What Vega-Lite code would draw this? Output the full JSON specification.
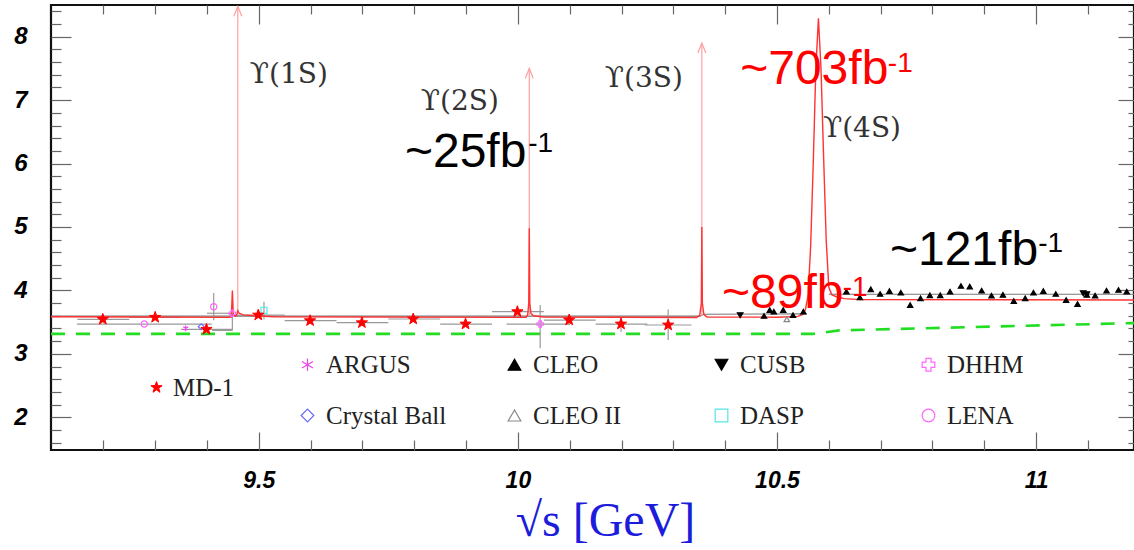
{
  "$schema": "https://vega.github.io/schema/vega-lite/v6.json",
  "width": 1083,
  "height": 445,
  "autosize": "none",
  "padding": {"left": 51, "top": 5, "right": 0, "bottom": 100},
  "background": "white",
  "config": {
    "view": {"stroke": "#111", "strokeWidth": 2.2},
    "axis": {"domain": false, "grid": false, "tickColor": "#666", "tickWidth": 1.2, "labelFont": "Liberation Sans", "labelFontWeight": "bold", "labelFontStyle": "italic", "labelColor": "#000"}
  },
  "datasets": {
    "green": [
      {"x": 9.099, "y": 3.315}, {"x": 10.57, "y": 3.315}, {"x": 10.62, "y": 3.37}, {"x": 11.189, "y": 3.485}
    ],
    "gray": [
      {"seg": "a", "x": 9.099, "y": 3.595}, {"seg": "a", "x": 10.352, "y": 3.595}, {"seg": "a", "x": 10.358, "y": 3.625}, {"seg": "a", "x": 10.557, "y": 3.63},
      {"seg": "b", "x": 10.6, "y": 3.94}, {"seg": "b", "x": 11.189, "y": 3.94}
    ],
    "curve": [
      {"x": 9.099, "y": 3.585}, {"x": 9.3, "y": 3.58}, {"x": 9.44, "y": 3.575}, {"x": 9.447, "y": 3.58},
      {"x": 9.449, "y": 4.0}, {"x": 9.451, "y": 3.6}, {"x": 9.457, "y": 3.6}, {"x": 9.4595, "y": 3.68},
      {"x": 9.462, "y": 3.64}, {"x": 9.47, "y": 3.615}, {"x": 9.49, "y": 3.6}, {"x": 9.53, "y": 3.585},
      {"x": 10.0, "y": 3.575}, {"x": 10.016, "y": 3.578}, {"x": 10.019, "y": 3.62}, {"x": 10.021, "y": 3.8},
      {"x": 10.022, "y": 4.98}, {"x": 10.023, "y": 3.8}, {"x": 10.025, "y": 3.64}, {"x": 10.03, "y": 3.6},
      {"x": 10.05, "y": 3.58}, {"x": 10.345, "y": 3.572}, {"x": 10.351, "y": 3.61}, {"x": 10.354, "y": 3.8},
      {"x": 10.355, "y": 5.0}, {"x": 10.356, "y": 3.8}, {"x": 10.359, "y": 3.62}, {"x": 10.365, "y": 3.58},
      {"x": 10.5, "y": 3.578}, {"x": 10.54, "y": 3.59}, {"x": 10.55, "y": 3.62}, {"x": 10.555, "y": 3.7},
      {"x": 10.56, "y": 3.92}, {"x": 10.565, "y": 4.7}, {"x": 10.57, "y": 6.0}, {"x": 10.575, "y": 7.5},
      {"x": 10.58, "y": 8.29}, {"x": 10.585, "y": 7.5}, {"x": 10.59, "y": 6.1}, {"x": 10.595, "y": 4.8},
      {"x": 10.6, "y": 4.05}, {"x": 10.606, "y": 3.93}, {"x": 10.615, "y": 3.9}, {"x": 10.63, "y": 3.87},
      {"x": 10.66, "y": 3.855}, {"x": 11.189, "y": 3.85}
    ],
    "arrows": [
      {"x": 9.4595, "ylo": 3.68, "yhi": 8.48},
      {"x": 10.022, "ylo": 3.6, "yhi": 7.5},
      {"x": 10.355, "ylo": 3.6, "yhi": 7.9}
    ],
    "xerr": [
      {"y": 3.545, "xlo": 9.15, "xhi": 9.25}, {"y": 3.576, "xlo": 9.25, "xhi": 9.35},
      {"y": 3.387, "xlo": 9.35, "xhi": 9.45}, {"y": 3.612, "xlo": 9.45, "xhi": 9.55},
      {"y": 3.523, "xlo": 9.55, "xhi": 9.65}, {"y": 3.491, "xlo": 9.65, "xhi": 9.75},
      {"y": 3.549, "xlo": 9.75, "xhi": 9.85}, {"y": 3.47, "xlo": 9.85, "xhi": 9.95},
      {"y": 3.665, "xlo": 9.95, "xhi": 10.05}, {"y": 3.533, "xlo": 10.05, "xhi": 10.15},
      {"y": 3.47, "xlo": 10.15, "xhi": 10.25}, {"y": 3.455, "xlo": 10.245, "xhi": 10.335},
      {"y": 3.47, "xlo": 9.149, "xhi": 9.409}, {"y": 3.64, "xlo": 9.4, "xhi": 9.449},
      {"y": 3.37, "xlo": 9.41, "xhi": 9.449}, {"y": 3.47, "xlo": 9.978, "xhi": 10.1}
    ],
    "yerr": [
      {"x": 10.099, "ylo": 3.45, "yhi": 3.62}, {"x": 10.199, "ylo": 3.35, "yhi": 3.59},
      {"x": 10.29, "ylo": 3.22, "yhi": 3.7}, {"x": 9.413, "ylo": 3.53, "yhi": 3.96},
      {"x": 9.449, "ylo": 3.37, "yhi": 3.64}, {"x": 9.51, "ylo": 3.545, "yhi": 3.82},
      {"x": 10.043, "ylo": 3.09, "yhi": 3.77}
    ],
    "md1": [
      {"exp": "MD-1", "x": 9.199, "y": 3.545}, {"exp": "MD-1", "x": 9.3, "y": 3.576},
      {"exp": "MD-1", "x": 9.399, "y": 3.387}, {"exp": "MD-1", "x": 9.499, "y": 3.612},
      {"exp": "MD-1", "x": 9.599, "y": 3.523}, {"exp": "MD-1", "x": 9.699, "y": 3.491},
      {"exp": "MD-1", "x": 9.798, "y": 3.549}, {"exp": "MD-1", "x": 9.899, "y": 3.47},
      {"exp": "MD-1", "x": 9.999, "y": 3.665}, {"exp": "MD-1", "x": 10.099, "y": 3.533},
      {"exp": "MD-1", "x": 10.199, "y": 3.47}, {"exp": "MD-1", "x": 10.29, "y": 3.455}
    ],
    "others": [
      {"exp": "ARGUS", "x": 9.359, "y": 3.403},
      {"exp": "Crystal Ball", "x": 9.389, "y": 3.428},
      {"exp": "LENA", "x": 9.279, "y": 3.47},
      {"exp": "LENA", "x": 9.413, "y": 3.743},
      {"exp": "DHHM", "x": 9.449, "y": 3.64},
      {"exp": "DHHM", "x": 10.043, "y": 3.47},
      {"exp": "DASP", "x": 9.51, "y": 3.687},
      {"exp": "CUSB", "x": 10.429, "y": 3.61},
      {"exp": "CUSB", "x": 11.091, "y": 3.955},
      {"exp": "CUSB", "x": 11.098, "y": 3.94},
      {"exp": "CLEO II", "x": 10.519, "y": 3.545},
      {"exp": "CLEO", "x": 10.475, "y": 3.597},
      {"exp": "CLEO", "x": 10.486, "y": 3.69},
      {"exp": "CLEO", "x": 10.494, "y": 3.665},
      {"exp": "CLEO", "x": 10.512, "y": 3.69},
      {"exp": "CLEO", "x": 10.531, "y": 3.61},
      {"exp": "CLEO", "x": 10.551, "y": 3.665},
      {"exp": "CLEO", "x": 10.634, "y": 3.98},
      {"exp": "CLEO", "x": 10.66, "y": 3.89},
      {"exp": "CLEO", "x": 10.681, "y": 4.018},
      {"exp": "CLEO", "x": 10.699, "y": 3.944},
      {"exp": "CLEO", "x": 10.717, "y": 3.991},
      {"exp": "CLEO", "x": 10.739, "y": 3.964},
      {"exp": "CLEO", "x": 10.757, "y": 3.77},
      {"exp": "CLEO", "x": 10.777, "y": 3.876},
      {"exp": "CLEO", "x": 10.795, "y": 3.923},
      {"exp": "CLEO", "x": 10.815, "y": 3.923},
      {"exp": "CLEO", "x": 10.834, "y": 3.98},
      {"exp": "CLEO", "x": 10.855, "y": 4.07},
      {"exp": "CLEO", "x": 10.872, "y": 4.06},
      {"exp": "CLEO", "x": 10.895, "y": 3.996},
      {"exp": "CLEO", "x": 10.914, "y": 3.917},
      {"exp": "CLEO", "x": 10.936, "y": 3.93},
      {"exp": "CLEO", "x": 10.957, "y": 3.833},
      {"exp": "CLEO", "x": 10.979, "y": 3.876},
      {"exp": "CLEO", "x": 10.995, "y": 3.964},
      {"exp": "CLEO", "x": 11.014, "y": 3.991},
      {"exp": "CLEO", "x": 11.038, "y": 3.944},
      {"exp": "CLEO", "x": 11.058, "y": 3.849},
      {"exp": "CLEO", "x": 11.08, "y": 3.786},
      {"exp": "CLEO", "x": 11.098, "y": 3.93},
      {"exp": "CLEO", "x": 11.114, "y": 3.917},
      {"exp": "CLEO", "x": 11.136, "y": 3.996},
      {"exp": "CLEO", "x": 11.159, "y": 4.007},
      {"exp": "CLEO", "x": 11.175, "y": 3.98}
    ],
    "upsilon": [
      {"label": "ϒ(1S)", "x": 9.558, "y": 7.396},
      {"label": "ϒ(2S)", "x": 9.888, "y": 6.97},
      {"label": "ϒ(3S)", "x": 10.243, "y": 7.33},
      {"label": "ϒ(4S)", "x": 10.664, "y": 6.545}
    ],
    "lumi": [
      {"label": "~25fb", "x": 9.782, "y": 5.946, "grp": "normal"},
      {"label": "~703fb", "x": 10.429, "y": 7.254, "grp": "highlight"},
      {"label": "~89fb", "x": 10.394, "y": 3.724, "grp": "highlight"},
      {"label": "~121fb", "x": 10.718, "y": 4.4, "grp": "normal"}
    ],
    "lumisup": [
      {"label": "-1", "x": 10.02, "y": 6.529, "grp": "normal"},
      {"label": "-1", "x": 10.714, "y": 7.79, "grp": "highlight"},
      {"label": "-1", "x": 10.627, "y": 4.259, "grp": "highlight"},
      {"label": "-1", "x": 11.004, "y": 4.953, "grp": "normal"}
    ]
  },
  "resolve": {
    "axis": {"x": "independent", "y": "independent"},
    "scale": {"shape": "independent", "fill": "independent", "stroke": "independent", "color": "independent", "size": "independent"}
  },
  "layer": [
    {
      "data": {"name": "green"},
      "mark": {"type": "line", "color": "#22dd22", "strokeWidth": 2.6, "strokeDash": [14, 11]},
      "encoding": {
        "x": {"field": "x", "type": "quantitative", "scale": {"domain": [9.099, 11.189], "nice": false, "zero": false},
          "axis": {"orient": "bottom", "title": "√s [GeV]",
            "values": [9.2, 9.3, 9.4, 9.5, 9.6, 9.7, 9.8, 9.9, 10, 10.1, 10.2, 10.3, 10.4, 10.5, 10.6, 10.7, 10.8, 10.9, 11, 11.1],
            "tickSize": {"condition": {"test": "abs(datum.value*2-round(datum.value*2))<0.001", "value": -18}, "value": -10},
            "labelExpr": "abs(datum.value*2-round(datum.value*2))<0.001 ? datum.value+'' : ''",
            "labelFontSize": 23, "labelPadding": 37, "labelOverlap": false,
            "titleFont": "Liberation Serif", "titleFontSize": 48, "titleFontWeight": "normal", "titleColor": "#1c1cdc",
            "titleX": 554, "titleY": 85, "titleBaseline": "alphabetic", "titleAlign": "center"}},
        "y": {"field": "y", "type": "quantitative", "scale": {"domain": [1.484, 8.5], "nice": false, "zero": false},
          "axis": {"orient": "left", "title": null,
            "values": [1.6, 1.8, 2, 2.2, 2.4, 2.6, 2.8, 3, 3.2, 3.4, 3.6, 3.8, 4, 4.2, 4.4, 4.6, 4.8, 5, 5.2, 5.4, 5.6, 5.8, 6, 6.2, 6.4, 6.6, 6.8, 7, 7.2, 7.4, 7.6, 7.8, 8, 8.2, 8.4],
            "tickSize": {"condition": {"test": "abs(datum.value-round(datum.value))<0.001", "value": -20}, "value": -10},
            "labelExpr": "abs(datum.value-round(datum.value))<0.001 ? datum.value+'' : ''",
            "labelFontSize": 24, "labelPadding": 44, "labelOverlap": false}}
      }
    },
    {
      "data": {"name": "gray"},
      "mark": {"type": "line", "color": "#777", "strokeWidth": 1.1},
      "encoding": {
        "x": {"field": "x", "type": "quantitative",
          "axis": {"orient": "top", "title": null, "labels": false,
            "values": [9.2, 9.3, 9.4, 9.5, 9.6, 9.7, 9.8, 9.9, 10, 10.1, 10.2, 10.3, 10.4, 10.5, 10.6, 10.7, 10.8, 10.9, 11, 11.1],
            "tickSize": {"condition": {"test": "abs(datum.value*2-round(datum.value*2))<0.001", "value": -19}, "value": -9}}},
        "y": {"field": "y", "type": "quantitative",
          "axis": {"orient": "right", "title": null, "labels": false,
            "values": [1.6, 1.8, 2, 2.2, 2.4, 2.6, 2.8, 3, 3.2, 3.4, 3.6, 3.8, 4, 4.2, 4.4, 4.6, 4.8, 5, 5.2, 5.4, 5.6, 5.8, 6, 6.2, 6.4, 6.6, 6.8, 7, 7.2, 7.4, 7.6, 7.8, 8, 8.2, 8.4],
            "tickSize": {"condition": {"test": "abs(datum.value-round(datum.value))<0.001", "value": -16}, "value": -6}}},
        "detail": {"field": "seg"}
      }
    },
    {
      "data": {"name": "xerr"},
      "mark": {"type": "rule", "color": "#999", "strokeWidth": 1.2},
      "encoding": {
        "x": {"field": "xlo", "type": "quantitative", "axis": null},
        "x2": {"field": "xhi"},
        "y": {"field": "y", "type": "quantitative", "axis": null}
      }
    },
    {
      "data": {"name": "yerr"},
      "mark": {"type": "rule", "color": "#999", "strokeWidth": 1.2},
      "encoding": {
        "x": {"field": "x", "type": "quantitative", "axis": null},
        "y": {"field": "ylo", "type": "quantitative", "axis": null},
        "y2": {"field": "yhi"}
      }
    },
    {
      "data": {"name": "arrows"},
      "mark": {"type": "rule", "color": "#ff9f9f", "strokeWidth": 1.2},
      "encoding": {
        "x": {"field": "x", "type": "quantitative", "axis": null},
        "y": {"field": "ylo", "type": "quantitative", "axis": null},
        "y2": {"field": "yhi"}
      }
    },
    {
      "data": {"name": "arrows"},
      "mark": {"type": "point", "shape": "M-0.4,1L0,0L0.4,1", "size": 400, "filled": false, "color": "#ff9f9f", "strokeWidth": 1.2, "opacity": 1},
      "encoding": {
        "x": {"field": "x", "type": "quantitative", "axis": null},
        "y": {"field": "yhi", "type": "quantitative", "axis": null}
      }
    },
    {
      "data": {"name": "curve"},
      "mark": {"type": "line", "color": "#ff3333", "strokeWidth": 1.4},
      "encoding": {
        "x": {"field": "x", "type": "quantitative", "axis": null},
        "y": {"field": "y", "type": "quantitative", "axis": null}
      }
    },
    {
      "data": {"name": "others"},
      "mark": {"type": "point", "strokeWidth": 1.2, "opacity": 1},
      "encoding": {
        "x": {"field": "x", "type": "quantitative", "axis": null},
        "y": {"field": "y", "type": "quantitative", "axis": null},
        "shape": {"field": "exp", "type": "nominal",
          "scale": {"domain": ["ARGUS", "CLEO", "CUSB", "DHHM", "Crystal Ball", "CLEO II", "DASP", "LENA"],
            "range": ["M0,-1L0,1M-0.87,-0.5L0.87,0.5M-0.87,0.5L0.87,-0.5", "triangle-up", "triangle-down", "cross", "diamond", "triangle-up", "square", "circle"]},
          "legend": {"title": null, "orient": "none", "legendX": 244, "legendY": 347, "direction": "horizontal", "columns": 4, "gridAlign": "all", "columnPadding": 55, "rowPadding": 25, "symbolSize": 160, "symbolStrokeWidth": 1.2, "labelFont": "Liberation Serif", "labelFontSize": 25, "labelColor": "#222", "labelOffset": 6, "padding": 0, "labelLimit": 300}},
        "fill": {"field": "exp", "type": "nominal",
          "scale": {"domain": ["ARGUS", "CLEO", "CUSB", "DHHM", "Crystal Ball", "CLEO II", "DASP", "LENA"],
            "range": ["transparent", "#000000", "#000000", "transparent", "transparent", "transparent", "transparent", "transparent"]},
          "legend": {"title": null, "orient": "none", "legendX": 244, "legendY": 347, "direction": "horizontal", "columns": 4, "gridAlign": "all", "columnPadding": 55, "rowPadding": 25, "symbolSize": 160, "symbolStrokeWidth": 1.2, "labelFont": "Liberation Serif", "labelFontSize": 25, "labelColor": "#222", "labelOffset": 6, "padding": 0, "labelLimit": 300}},
        "stroke": {"field": "exp", "type": "nominal",
          "scale": {"domain": ["ARGUS", "CLEO", "CUSB", "DHHM", "Crystal Ball", "CLEO II", "DASP", "LENA"],
            "range": ["#ee44ee", "#000000", "#000000", "#ff66ff", "#6a6aff", "#888888", "#55e6e6", "#ff66ff"]},
          "legend": {"title": null, "orient": "none", "legendX": 244, "legendY": 347, "direction": "horizontal", "columns": 4, "gridAlign": "all", "columnPadding": 55, "rowPadding": 25, "symbolSize": 160, "symbolStrokeWidth": 1.2, "labelFont": "Liberation Serif", "labelFontSize": 25, "labelColor": "#222", "labelOffset": 6, "padding": 0, "labelLimit": 300}},
        "size": {"field": "exp", "type": "nominal", "legend": null,
          "scale": {"domain": ["CLEO", "CLEO II", "CUSB", "ARGUS", "Crystal Ball", "DASP", "DHHM", "LENA"],
            "range": [28, 40, 32, 90, 90, 120, 150, 120]}}
      }
    },
    {
      "data": {"name": "md1"},
      "mark": {"type": "point", "strokeWidth": 1, "opacity": 1, "size": 140},
      "encoding": {
        "x": {"field": "x", "type": "quantitative", "axis": null},
        "y": {"field": "y", "type": "quantitative", "axis": null},
        "shape": {"field": "exp", "type": "nominal",
          "scale": {"domain": ["MD-1"], "range": ["M0,-1L0.235,-0.324L0.951,-0.309L0.38,0.124L0.588,0.809L0,0.4L-0.588,0.809L-0.38,0.124L-0.951,-0.309L-0.235,-0.324Z"]},
          "legend": {"title": null, "orient": "none", "legendX": 93, "legendY": 370, "symbolSize": 140, "symbolStrokeWidth": 1, "labelFont": "Liberation Serif", "labelFontSize": 25, "labelColor": "#222", "labelOffset": 4, "padding": 0}},
        "fill": {"field": "exp", "type": "nominal", "scale": {"domain": ["MD-1"], "range": ["#ff0000"]},
          "legend": {"title": null, "orient": "none", "legendX": 93, "legendY": 370, "symbolSize": 140, "symbolStrokeWidth": 1, "labelFont": "Liberation Serif", "labelFontSize": 25, "labelColor": "#222", "labelOffset": 4, "padding": 0}},
        "stroke": {"field": "exp", "type": "nominal", "scale": {"domain": ["MD-1"], "range": ["#ff0000"]},
          "legend": {"title": null, "orient": "none", "legendX": 93, "legendY": 370, "symbolSize": 140, "symbolStrokeWidth": 1, "labelFont": "Liberation Serif", "labelFontSize": 25, "labelColor": "#222", "labelOffset": 4, "padding": 0}}
      }
    },
    {
      "data": {"name": "upsilon"},
      "mark": {"type": "text", "font": "DejaVu Serif", "fontSize": 28, "fill": "#333", "align": "center", "baseline": "middle"},
      "encoding": {
        "x": {"field": "x", "type": "quantitative", "axis": null},
        "y": {"field": "y", "type": "quantitative", "axis": null},
        "text": {"field": "label"}
      }
    },
    {
      "data": {"name": "lumi"},
      "mark": {"type": "text", "font": "Liberation Sans", "fontSize": 48, "align": "left", "baseline": "alphabetic"},
      "encoding": {
        "x": {"field": "x", "type": "quantitative", "axis": null},
        "y": {"field": "y", "type": "quantitative", "axis": null},
        "text": {"field": "label"},
        "color": {"field": "grp", "type": "nominal", "legend": null, "scale": {"domain": ["highlight", "normal"], "range": ["#ff0000", "#000000"]}}
      }
    },
    {
      "data": {"name": "lumisup"},
      "mark": {"type": "text", "font": "Liberation Sans", "fontSize": 28, "align": "left", "baseline": "top"},
      "encoding": {
        "x": {"field": "x", "type": "quantitative", "axis": null},
        "y": {"field": "y", "type": "quantitative", "axis": null},
        "text": {"field": "label"},
        "color": {"field": "grp", "type": "nominal", "legend": null, "scale": {"domain": ["highlight", "normal"], "range": ["#ff0000", "#000000"]}}
      }
    }
  ]
}
